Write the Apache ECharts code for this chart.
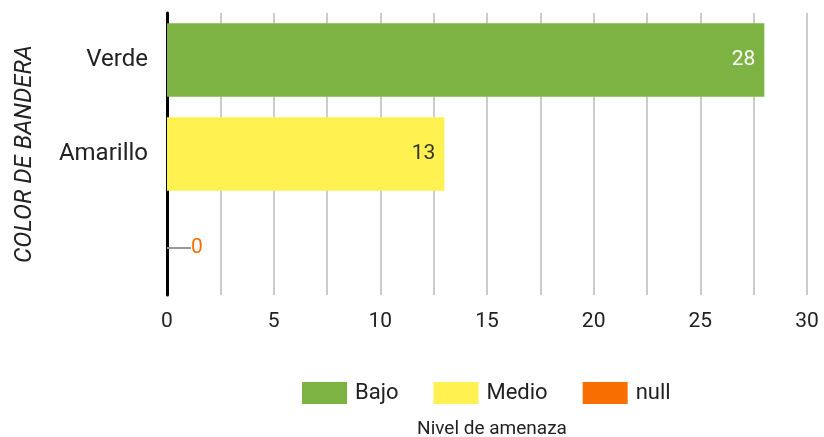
<!DOCTYPE html>
<html><head><meta charset="utf-8">
<script src="https://cdn.jsdelivr.net/npm/echarts@6/dist/echarts.min.js"></script>
<style>html,body{margin:0;padding:0;background:#fff}#c{width:824px;height:437px}</style>
</head><body><div id="c"></div>
<script>
const categories = ['Verde', 'Amarillo', ''];
const seriesNames = ['Bajo', 'Medio', 'null'];
const bajo = [28, '-', '-'];
const medio = ['-', 13, '-'];
const nulo = ['-', '-', 0];
const xTicks = [0, 5, 10, 15, 20, 25, 30];

const chart = echarts.init(document.getElementById('c'));
const font = 'Roboto';
chart.setOption({
  animation: false,
  textStyle: { fontFamily: font },
  grid: { left: 167, right: 17, top: 13, bottom: 142, containLabel: false, outerBoundsMode: 'none' },
  legend: {
    data: seriesNames,
    top: 377, left: 297,
    itemWidth: 45, itemHeight: 22, itemGap: 35,
    textStyle: { fontSize: 22, color: '#222', fontFamily: font, padding: [0, 0, 0, 3] },
    icon: 'rect'
  },
  xAxis: {
    type: 'value', min: xTicks[0], max: xTicks[xTicks.length - 1], interval: 5,
    name: 'Nivel de amenaza', nameLocation: 'middle', nameGap: 125,
    nameTextStyle: { fontSize: 19, color: '#222', fontFamily: font, padding: [0, 0, 0, 10] },
    axisLine: { show: false }, axisTick: { show: false },
    axisLabel: { fontSize: 21, color: '#222', margin: 16, fontFamily: font },
    splitLine: { show: true, lineStyle: { color: '#cccccc', width: 2 } },
    minorTick: { show: false, splitNumber: 2 },
    minorSplitLine: { show: true, lineStyle: { color: '#cccccc', width: 2 } }
  },
  yAxis: {
    type: 'category', data: categories, inverse: true,
    name: 'COLOR DE BANDERA', nameLocation: 'middle', nameGap: 130,
    nameTextStyle: { fontSize: 24, color: '#222', fontStyle: 'italic', fontFamily: font },
    axisLine: { show: true, lineStyle: { color: '#000', width: 3 } },
    axisTick: { show: false },
    axisLabel: { fontSize: 24, color: '#222', margin: 19, fontFamily: font }
  },
  series: [
    { name: seriesNames[0], type: 'bar', stack: 's', data: bajo, barWidth: '78%',
      itemStyle: { color: '#7CB342' },
      label: { show: true, position: 'insideRight', color: '#fff', fontSize: 21, distance: 9 } },
    { name: seriesNames[1], type: 'bar', stack: 's', data: medio, barWidth: '78%',
      itemStyle: { color: '#FFF150' },
      label: { show: true, position: 'insideRight', color: '#333', fontSize: 21, distance: 9 } },
    { name: seriesNames[2], type: 'bar', stack: 's', data: nulo, barWidth: '78%',
      itemStyle: { color: '#F86F00' },
      label: { show: true, position: 'right', distance: 0, fontSize: 21,
        formatter: p => '{l|}{v|' + p.value + '}',
        rich: {
          l: { width: 24, height: 2, backgroundColor: '#999' },
          v: { color: '#F86F00', fontSize: 21, fontFamily: font }
        } } }
  ]
});
</script></body></html>
